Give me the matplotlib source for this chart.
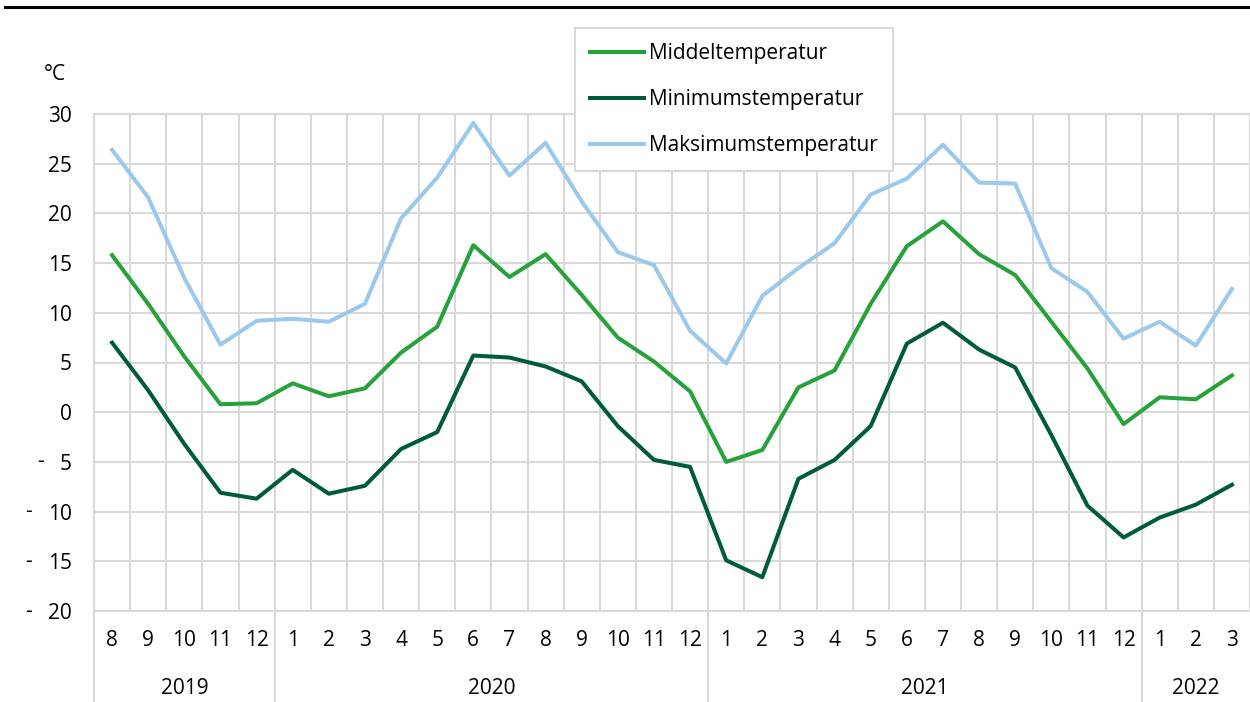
import matplotlib
matplotlib.use("Agg")
import matplotlib.pyplot as plt
import matplotlib.transforms as mtransforms
from matplotlib.lines import Line2D

plt.rcParams["font.family"] = ["Open Sans", "DejaVu Sans"]

# ---------------------------------------------------------------- data (°C, monthly)
month_labels = ["8", "9", "10", "11", "12",
                "1", "2", "3", "4", "5", "6", "7", "8", "9", "10", "11", "12",
                "1", "2", "3", "4", "5", "6", "7", "8", "9", "10", "11", "12",
                "1", "2", "3"]
year_labels = ["2019", "2020", "2021", "2022"]
year_counts = [5, 12, 12, 3]

middel = [15.8, 10.9, 5.6, 0.8, 0.9,
          2.9, 1.6, 2.4, 6.0, 8.6, 16.8, 13.6, 15.9, 11.8, 7.5, 5.1, 2.1,
          -5.0, -3.8, 2.5, 4.2, 10.9, 16.7, 19.2, 15.9, 13.8, 9.1, 4.4, -1.2,
          1.5, 1.3, 3.7]
minimum = [7.0, 2.2, -3.2, -8.1, -8.7,
           -5.8, -8.2, -7.4, -3.7, -2.0, 5.7, 5.5, 4.6, 3.1, -1.4, -4.8, -5.5,
           -14.9, -16.6, -6.7, -4.8, -1.4, 6.9, 9.0, 6.3, 4.5, -2.3, -9.4, -12.6,
           -10.6, -9.3, -7.3]
maksimum = [26.4, 21.6, 13.5, 6.8, 9.2,
            9.4, 9.1, 10.9, 19.5, 23.6, 29.1, 23.8, 27.1, 21.2, 16.1, 14.8, 8.2,
            4.9, 11.7, 14.5, 17.0, 21.9, 23.5, 26.9, 23.1, 23.0, 14.5, 12.1, 7.4,
            9.1, 6.7, 12.4]
y_ticks = [-20, -15, -10, -5, 0, 5, 10, 15, 20, 25, 30]

# ---------------------------------------------------------------- style
C_MID = "#27a23a"
C_MIN = "#005a3c"
C_MAX = "#9bc9ec"
C_GRID = "#d9d9d9"
FS = 15

W, H = 1250, 702
fig = plt.figure(figsize=(W / 100, H / 100), dpi=100)
ax = fig.add_axes([94 / W, 1 - 611 / H, 1156 / W, 497 / H])

x = list(range(len(month_labels)))
ax.plot(x, middel, color=C_MID, lw=2.9, label="Middeltemperatur", zorder=3)
ax.plot(x, minimum, color=C_MIN, lw=2.9, label="Minimumstemperatur", zorder=3)
ax.plot(x, maksimum, color=C_MAX, lw=2.9, label="Maksimumstemperatur", zorder=3)

ax.set_xlim(-0.5, len(x) - 0.5)
ax.set_ylim(-20, 30)

# grid: horizontal at y ticks, vertical at category boundaries
ax.set_yticks(y_ticks)
ax.set_yticklabels([str(abs(v)) for v in y_ticks])
ax.set_xticks(x)
ax.set_xticklabels(month_labels)
ax.set_xticks([i + 0.5 for i in range(-1, len(x))], minor=True)
ax.grid(axis="y", which="major", color=C_GRID, lw=1.5, zorder=0)
ax.grid(axis="x", which="minor", color=C_GRID, lw=1.5, zorder=0)
ax.tick_params(axis="both", which="both", length=0, labelsize=FS, colors="#000000")
ax.tick_params(axis="x", pad=14)
ax.tick_params(axis="y", pad=16)
for s in ax.spines.values():
    s.set_color(C_GRID)
    s.set_linewidth(1.5)

# minus signs for the negative labels (accounting style)
ytr = mtransforms.blended_transform_factory(fig.transFigure, ax.transData)
for v in y_ticks:
    if v < 0:
        xd = 40 if v > -10 else 28
        ax.text(xd / W, v, "-", transform=ytr, ha="center", va="center",
                fontsize=FS, clip_on=False)

# year groups under the month labels
xtr = mtransforms.blended_transform_factory(ax.transData, fig.transFigure)
sep_tr = mtransforms.blended_transform_factory(ax.transData, ax.transAxes)
drop = -(702 - 611) / 497
ax.add_line(Line2D([-0.5, -0.5], [0, drop], transform=sep_tr,
                   color=C_GRID, lw=1.5, clip_on=False))
start = 0
for lab, n in zip(year_labels, year_counts):
    ax.text(start + (n - 1) / 2, 1 - 688 / H, lab, transform=xtr,
            ha="center", va="center", fontsize=FS)
    end = start + n - 0.5
    if end < len(x) - 1:
        ax.add_line(Line2D([end, end], [0, drop], transform=sep_tr,
                           color=C_GRID, lw=1.5, clip_on=False))
    start += n

# unit label
fig.text(44 / W, 1 - 75 / H, "°C", ha="left", va="center", fontsize=FS)

# top rule
fig.add_artist(Line2D([5 / W, 1.0], [1 - 7 / H, 1 - 7 / H], color="black", lw=2.2))

# legend
leg = fig.legend(loc="upper left", bbox_to_anchor=(575 / W, 1 - 28 / H),
                 fontsize=FS, frameon=True, fancybox=False, labelspacing=1.2,
                 handlelength=2.6, handletextpad=0.25, borderpad=0.72,
                 borderaxespad=0)
leg.get_frame().set_edgecolor(C_GRID)
leg.get_frame().set_linewidth(1.5)
leg.get_frame().set_facecolor("white")
leg.get_frame().set_alpha(1)

fig.savefig("out.png", dpi=100)
